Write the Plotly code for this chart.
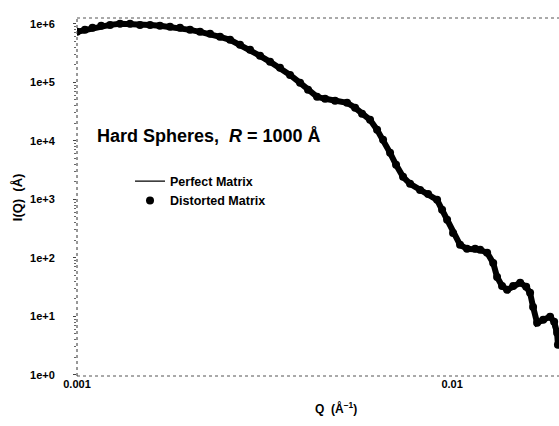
import plotly.graph_objects as go

# Q (1/Å) and I(Q)
q_distorted = [0.001000, 0.00105, 0.00110, 0.00116, 0.001225, 0.001302, 0.001385, 0.001472,
               0.001566, 0.001664, 0.00177, 0.001882, 0.002001, 0.002128, 0.002263, 0.002406,
               0.002559, 0.00272, 0.002893, 0.003076, 0.003271, 0.003477, 0.003698, 0.003933,
               0.00413, 0.004365, 0.004585, 0.004875, 0.005248, 0.005513, 0.005754, 0.006043,
               0.00631, 0.006546, 0.006833, 0.007089, 0.0074, 0.007727, 0.008215, 0.00863,
               0.00912, 0.009404, 0.009698, 0.01006, 0.0105, 0.01096, 0.01152, 0.01188,
               0.0124, 0.01287, 0.01318, 0.01359, 0.01402, 0.01455, 0.01519, 0.01576,
               0.01614, 0.01644, 0.01685, 0.01749, 0.01825, 0.01871, 0.01905, 0.01915]
i_distorted = [7.3e5, 7.9e5, 8.55e5, 9.25e5, 9.6e5, 1.0e6, 1.0e6, 9.6e5,
               9.6e5, 9.25e5, 8.9e5, 8.55e5, 7.9e5, 7.3e5, 6.75e5, 6.0e5,
               5.33e5, 4.38e5, 3.6e5, 2.84e5, 2.24e5, 1.77e5, 1.34e5, 9.8e4,
               7.45e4, 5.65e4, 5.23e4, 4.83e4, 4.47e4, 3.67e4, 2.9e4, 2.29e4,
               1.54e4, 1.04e4, 6.24e3, 3.89e3, 2.43e3, 1.84e3, 1.45e3, 1.24e3,
               980, 662, 446, 267, 167, 143, 143, 137,
               122, 82, 47, 33, 28.4, 33, 37.4, 31.9,
               25.2, 14.5, 7.74, 8.71, 9.8, 8.05, 5.22, 3.26]

q_perfect = [0.001000, 0.00110, 0.001225, 0.001385, 0.001566, 0.00177, 0.002001, 0.002263,
             0.002559, 0.002893, 0.003271, 0.003698, 0.00413, 0.004585, 0.005248, 0.005754,
             0.00631, 0.006833, 0.0074, 0.008215, 0.00912, 0.009698, 0.0105, 0.01152,
             0.0124, 0.01318, 0.01402, 0.01519, 0.01614, 0.01685, 0.01825, 0.01915]
i_perfect = [7.4e5, 8.6e5, 9.6e5, 1.0e6, 9.6e5, 8.9e5, 7.9e5, 6.75e5,
             5.3e5, 3.6e5, 2.24e5, 1.34e5, 7.4e4, 5.2e4, 4.5e4, 2.9e4,
             1.54e4, 6.2e3, 2.4e3, 1.45e3, 980, 446, 167, 143,
             122, 47, 28.4, 37.4, 25.2, 7.7, 9.8, 3.3]

y_tickvals = [1e0, 1e1, 1e2, 1e3, 1e4, 1e5, 1e6]
y_ticktext = ["1e+0", "1e+1", "1e+2", "1e+3", "1e+4", "1e+5", "1e+6"]
x_tickvals = [0.001, 0.01]
x_ticktext = ["0.001", "0.01"]

FONT = "Liberation Sans, Arial, sans-serif"

fig = go.Figure()
# scatter band of the distorted-matrix points (same data, drawn as a thick jagged band)
fig.add_trace(go.Scatter(
    x=q_distorted, y=i_distorted, mode="lines", showlegend=False, hoverinfo="skip",
    line=dict(color="black", width=6),
))
fig.add_trace(go.Scatter(
    x=q_perfect, y=i_perfect, mode="lines", name="<b>Perfect Matrix</b>",
    line=dict(color="black", width=1.2),
))
fig.add_trace(go.Scatter(
    x=q_distorted, y=i_distorted, mode="markers", name="<b>Distorted Matrix</b>",
    marker=dict(color="black", size=8, symbol="circle"),
))

fig.update_layout(
    width=559, height=426,
    margin=dict(l=77, r=0, t=18, b=50),
    paper_bgcolor="white", plot_bgcolor="white",
    font=dict(family=FONT, color="black", size=11),
    showlegend=True,
    legend=dict(x=0.11, y=0.585, xanchor="left", yanchor="top",
                bgcolor="rgba(0,0,0,0)", itemwidth=30, tracegroupgap=0,
                font=dict(size=12.5, family=FONT)),
    xaxis=dict(type="log", range=[-3.0, -1.715], tickvals=x_tickvals,
               ticktext=["<b>%s</b>" % t for t in x_ticktext],
               showgrid=False, zeroline=False, showline=False, ticks="",
               tickfont=dict(size=11)),
    yaxis=dict(type="log", range=[-0.02, 6.1], tickvals=y_tickvals,
               ticktext=["<b>%s</b>" % t for t in y_ticktext],
               showgrid=False, zeroline=False, showline=False, ticks="outside",
               ticklen=3, tickcolor="#444", tickfont=dict(size=11), ticklabelstandoff=16,
               minor=dict(ticks="outside", ticklen=2, tickcolor="#666", dtick="D1")),
)

# dotted frame lines (scan appearance)
fig.add_shape(type="line", xref="paper", yref="paper", x0=0, x1=1, y0=1, y1=1,
              line=dict(color="#555", width=1, dash="dot"))
fig.add_shape(type="line", xref="paper", yref="paper", x0=0, x1=1, y0=0, y1=0,
              line=dict(color="#555", width=1, dash="dot"))
fig.add_shape(type="line", xref="paper", yref="paper", x0=0, x1=0, y0=0, y1=1,
              line=dict(color="#333", width=1, dash="dot"))

fig.add_annotation(text="<b>Hard Spheres,  <i>R</i> = 1000 Å</b>", xref="paper", yref="paper",
                   x=0.037, y=0.67, xanchor="left", yanchor="middle", showarrow=False,
                   font=dict(size=18, family=FONT))
fig.add_annotation(text="<b>Q  (Å<sup>−1</sup>)</b>", xref="paper", yref="paper",
                   x=0.537, y=-0.09, xanchor="center", yanchor="middle", showarrow=False,
                   font=dict(size=12, family=FONT))
fig.add_annotation(text="<b>I(Q)  (Å)</b>", xref="paper", yref="paper",
                   x=-0.124, y=0.5, xanchor="center", yanchor="middle", showarrow=False,
                   textangle=-90, font=dict(size=13, family=FONT))

fig.write_html(
    "out.html",
    config={"displayModeBar": False},
    post_script="document.body.style.margin='0';document.body.style.overflow='hidden';",
)
